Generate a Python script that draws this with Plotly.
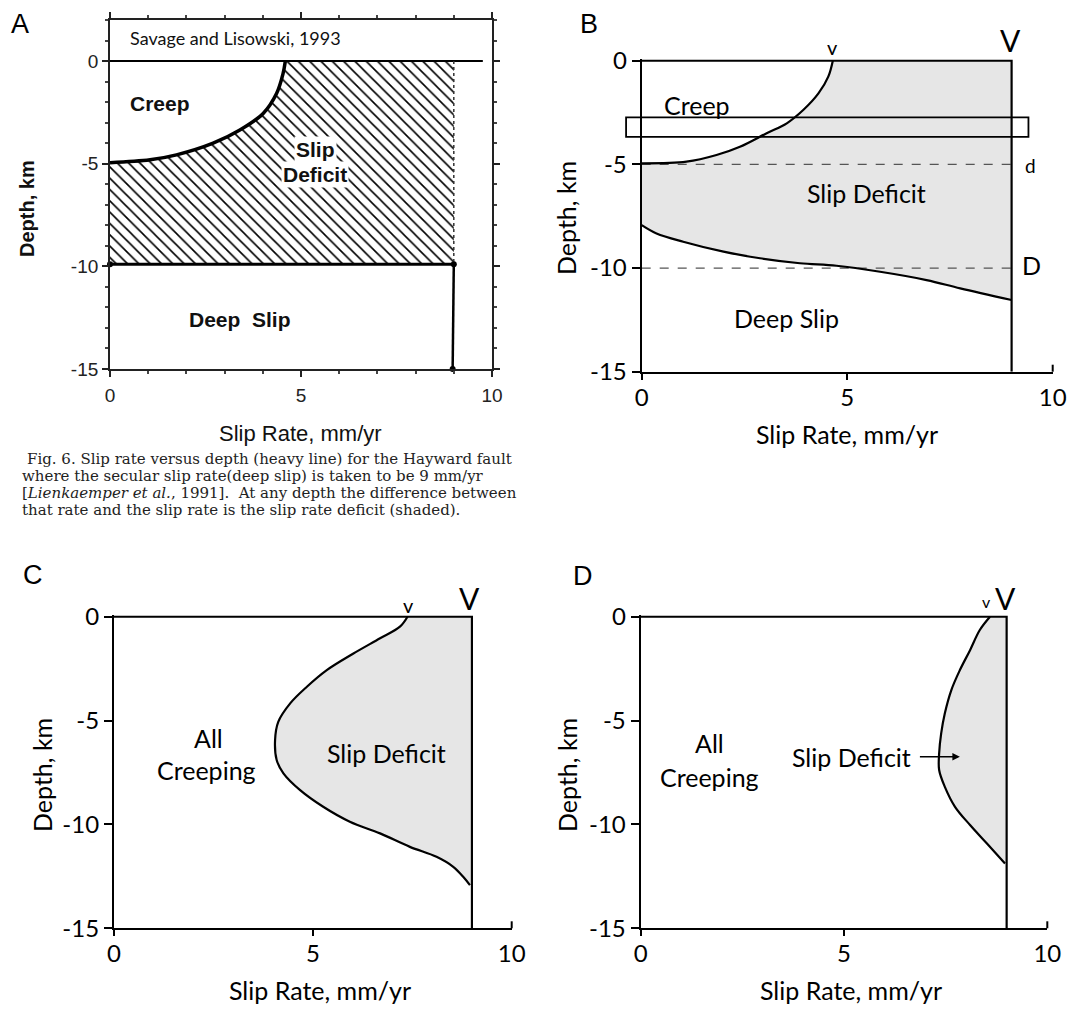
import plotly.graph_objects as go

W, H = 1068, 1011

# ---------------- Data ----------------
# Panel A (Savage and Lisowski, 1993)
a_creep_x = [0, 1.05, 1.74, 2.70, 3.40, 4.01, 4.36, 4.53, 4.59]
a_creep_y = [-4.95, -4.81, -4.57, -4.0, -3.36, -2.55, -1.58, -0.61, 0]
a_secular_rate = 9.0
a_lock_depth = -9.9
a_surface_x = [0, 9.76]
a_deep_x = [9.0, 8.97]
a_deep_y = [-9.9, -15]

# Panel B
b_creep_x = [0, 1.09, 1.82, 2.39, 3.04, 3.53, 3.93, 4.30, 4.54, 4.65]
b_creep_y = [-4.95, -4.87, -4.55, -4.15, -3.5, -3.02, -2.38, -1.58, -0.77, 0]
b_deep_x = [0, 0.36, 1.01, 1.99, 2.88, 3.85, 4.74, 5.80, 6.93, 7.75, 9.0]
b_deep_y = [-7.93, -8.33, -8.73, -9.21, -9.53, -9.77, -9.89, -10.18, -10.58, -10.98, -11.54]
b_d_depth = -5
b_D_depth = -10
b_box_x = [-0.38, 9.41]
b_box_y = [-3.67, -2.73]

# Panel C
c_x = [7.38, 7.19, 6.69, 6.02, 5.35, 4.85, 4.43, 4.13, 4.05, 4.09, 4.26, 4.68, 5.26,
       5.93, 6.69, 7.44, 8.11, 8.53, 8.78, 8.95]
c_y = [0, -0.48, -1.04, -1.77, -2.57, -3.37, -4.17, -5.06, -5.94, -6.90, -7.54, -8.35,
       -9.15, -9.87, -10.43, -11.08, -11.56, -12.04, -12.52, -12.92]

# Panel D
d_x = [8.59, 8.34, 8.10, 7.85, 7.64, 7.48, 7.39, 7.34, 7.34, 7.48, 7.73, 8.10, 8.51, 8.96]
d_y = [0, -0.64, -1.61, -2.57, -3.53, -4.65, -5.62, -6.58, -7.38, -8.19, -9.15, -10.03,
       -10.91, -11.88]

V = 9.0          # secular (deep) slip rate
DEPTH_MIN = -15

x_ticks = [0, 5, 10]
y_ticks = [0, -5, -10, -15]
y_ticktext = ["0", "-5", "-10", "-15"]

caption_lines = [
    "Fig. 6. Slip rate versus depth (heavy line) for the Hayward fault",
    "where the secular slip rate(deep slip) is taken to be 9 mm/yr",
    "[<i>Lienkaemper et al.</i>, 1991].  At any depth the difference between",
    "that rate and the slip rate is the slip rate deficit (shaded).",
]

# ---------------- Layout helpers ----------------
Y_TOP = 0.06
X_RANGE = [0, 10]
Y_RANGE = [DEPTH_MIN, Y_TOP]

# pixel boxes of the plot areas: (left, right, top, bottom)
PANELS = {
    "2": (641.7, 1052.7, 60.7 - 20.73 * Y_TOP, 371.7),
    "3": (114.0, 511.7, 616.7 - 20.77 * Y_TOP, 928.3),
    "4": (640.7, 1047.3, 616.7 - 20.77 * Y_TOP, 928.3),
}


def dom_x(l, r):
    return [l / W, r / W]


def dom_y(top, bottom):
    return [1 - bottom / H, 1 - top / H]


def to_paper(panel, x, y):
    l, r, t, b = PANELS[panel]
    fx = (x - X_RANGE[0]) / (X_RANGE[1] - X_RANGE[0])
    fy = (y - Y_RANGE[0]) / (Y_RANGE[1] - Y_RANGE[0])
    px = l + fx * (r - l)
    py = b - fy * (b - t)
    return px / W, 1 - py / H


GRAY = "#e6e6e6"
FONT = "Lato"
SCAN = "Liberation Sans"

fig = go.Figure()

# ---------------- Panel A ----------------
poly_x = a_creep_x + [a_secular_rate, a_secular_rate, 0, 0]
poly_y = a_creep_y + [0, a_lock_depth, a_lock_depth, a_creep_y[0]]
fig.add_trace(go.Scatter(x=poly_x, y=poly_y, mode="lines", fill="toself",
                         fillcolor="white", line=dict(width=0),
                         fillpattern=dict(shape="\\", fgcolor="black", bgcolor="white",
                                          size=8, solidity=0.2),
                         xaxis="x", yaxis="y", hoverinfo="skip"))
fig.add_trace(go.Scatter(x=a_surface_x, y=[0, 0], mode="lines",
                         line=dict(color="black", width=2), xaxis="x", yaxis="y"))
fig.add_trace(go.Scatter(x=[a_secular_rate, a_secular_rate], y=[0, a_lock_depth], mode="lines",
                         line=dict(color="#333", width=1.5, dash="dot"), xaxis="x", yaxis="y"))
fig.add_trace(go.Scatter(x=a_creep_x, y=a_creep_y, mode="lines",
                         line=dict(color="black", width=3.5, shape="spline"), xaxis="x", yaxis="y"))
fig.add_trace(go.Scatter(x=[0, a_secular_rate], y=[a_lock_depth, a_lock_depth], mode="lines",
                         line=dict(color="black", width=3), xaxis="x", yaxis="y"))
fig.add_trace(go.Scatter(x=a_deep_x, y=a_deep_y, mode="lines",
                         line=dict(color="black", width=2.5), xaxis="x", yaxis="y"))
fig.add_trace(go.Scatter(x=[0, a_secular_rate, a_deep_x[1]], y=[a_lock_depth, a_lock_depth, a_deep_y[1]],
                         mode="markers", marker=dict(color="black", size=6), cliponaxis=False,
                         xaxis="x", yaxis="y"))

# ---------------- Panel B ----------------
b_fill_x = b_creep_x + [V] + b_deep_x[::-1]
b_fill_y = b_creep_y + [0] + b_deep_y[::-1]
fig.add_trace(go.Scatter(x=b_fill_x, y=b_fill_y, mode="lines", fill="toself", fillcolor=GRAY,
                         line=dict(width=0), xaxis="x2", yaxis="y2", hoverinfo="skip"))
for dep in (b_d_depth, b_D_depth):
    fig.add_trace(go.Scatter(x=[0, V], y=[dep, dep], mode="lines",
                             line=dict(color="#555", width=1.3, dash="dash"), xaxis="x2", yaxis="y2"))
fig.add_trace(go.Scatter(x=b_creep_x, y=b_creep_y, mode="lines",
                         line=dict(color="black", width=2.2, shape="spline"), xaxis="x2", yaxis="y2"))
fig.add_trace(go.Scatter(x=b_deep_x, y=b_deep_y, mode="lines",
                         line=dict(color="black", width=2.2, shape="spline"), xaxis="x2", yaxis="y2"))

# ---------------- Panel C ----------------
fig.add_trace(go.Scatter(x=c_x + [V, V], y=c_y + [c_y[-1], 0], mode="lines", fill="toself",
                         fillcolor=GRAY, line=dict(width=0), xaxis="x3", yaxis="y3", hoverinfo="skip"))
fig.add_trace(go.Scatter(x=c_x, y=c_y, mode="lines",
                         line=dict(color="black", width=2.2, shape="spline"), xaxis="x3", yaxis="y3"))

# ---------------- Panel D ----------------
fig.add_trace(go.Scatter(x=d_x + [V, V], y=d_y + [d_y[-1], 0], mode="lines", fill="toself",
                         fillcolor=GRAY, line=dict(width=0), xaxis="x4", yaxis="y4", hoverinfo="skip"))
fig.add_trace(go.Scatter(x=d_x, y=d_y, mode="lines",
                         line=dict(color="black", width=2.2, shape="spline"), xaxis="x4", yaxis="y4"))

# box lines (top at 0 and right at V) for B, C, D
for xa, ya in (("x2", "y2"), ("x3", "y3"), ("x4", "y4")):
    fig.add_trace(go.Scatter(x=[0, V, V], y=[0, 0, DEPTH_MIN], mode="lines",
                             line=dict(color="black", width=2.2), xaxis=xa, yaxis=ya))

# ---------------- Axes ----------------
def xaxis_bcd(dom, anchor):
    return dict(domain=dom, anchor=anchor, range=X_RANGE, tickvals=x_ticks,
                ticks="", ticklabelstandoff=3, automargin=False,
                minor=dict(tickvals=x_ticks[:-1], ticks="outside", ticklen=6, tickwidth=2,
                           tickcolor="black"),
                showline=True, linewidth=2.2, linecolor="black", showgrid=False, zeroline=False,
                tickfont=dict(family=FONT, size=24, color="black"), fixedrange=True)


def yaxis_bcd(dom, anchor):
    return dict(domain=dom, anchor=anchor, range=Y_RANGE, tickvals=y_ticks,
                ticktext=y_ticktext, ticks="outside", ticklen=8, tickwidth=2, tickcolor="black",
                showline=True, linewidth=2.2, linecolor="black", showgrid=False, zeroline=False,
                automargin=False,
                tickfont=dict(family=FONT, size=24, color="black"), fixedrange=True)


layout_axes = {}
for k, (l, r, t, b) in PANELS.items():
    layout_axes["xaxis" + k] = xaxis_bcd(dom_x(l, r), "y" + k)
    layout_axes["yaxis" + k] = yaxis_bcd(dom_y(t, b), "x" + k)

fig.update_layout(
    template="none",
    width=W, height=H, margin=dict(l=0, r=0, t=0, b=0, pad=0, autoexpand=False),
    paper_bgcolor="white", plot_bgcolor="white", showlegend=False,
    xaxis=dict(domain=dom_x(110, 492), anchor="y", range=[0, 10], tickvals=x_ticks,
               ticks="outside", ticklen=6, tickwidth=1.5, tickcolor="#222", mirror="allticks",
               showline=True, linewidth=1.8, linecolor="#222", showgrid=False, zeroline=False,
               minor=dict(dtick=1, ticks="outside", ticklen=3, tickcolor="#444"),
               ticklabelstandoff=2, automargin=False,
               tickfont=dict(family=SCAN, size=19, color="#222"), fixedrange=True),
    yaxis=dict(domain=dom_y(20, 369), anchor="x", range=[DEPTH_MIN, 2], tickvals=y_ticks,
               ticktext=y_ticktext, ticks="outside", ticklen=6, tickwidth=1.5, tickcolor="#222",
               mirror="allticks", showline=True, linewidth=1.8, linecolor="#222",
               showgrid=False, zeroline=False, automargin=False,
               minor=dict(dtick=1, ticks="outside", ticklen=3, tickcolor="#444"),
               tickfont=dict(family=SCAN, size=19, color="#222"), fixedrange=True),
    **layout_axes,
)

# Rectangle in panel B (not clipped: use domain refs)
bx0 = (b_box_x[0] - X_RANGE[0]) / (X_RANGE[1] - X_RANGE[0])
bx1 = (b_box_x[1] - X_RANGE[0]) / (X_RANGE[1] - X_RANGE[0])
by0 = (b_box_y[0] - Y_RANGE[0]) / (Y_RANGE[1] - Y_RANGE[0])
by1 = (b_box_y[1] - Y_RANGE[0]) / (Y_RANGE[1] - Y_RANGE[0])
fig.add_shape(type="rect", xref="x2 domain", yref="y2 domain", x0=bx0, x1=bx1, y0=by0, y1=by1,
              line=dict(color="black", width=1.8), fillcolor="rgba(0,0,0,0)")

# upward tick at x = 10 on the B, C, D axes
for k, (l, r, t, b) in PANELS.items():
    fig.add_shape(type="line", xref="x%s domain" % k, yref="y%s domain" % k,
                  x0=1, x1=1, y0=0, y1=7 / (b - t), line=dict(color="black", width=2))

ann = []


def txt(text, x, y, xref, yref, size=24, family=FONT, **kw):
    d = dict(text=text, x=x, y=y, xref=xref, yref=yref, showarrow=False,
             xanchor=kw.pop("xanchor", "center"), yanchor=kw.pop("yanchor", "middle"),
             font=dict(family=family, size=size, color=kw.pop("color", "black")))
    d.update(kw)
    ann.append(d)


def paper(text, px, py, size=24, family=FONT, **kw):
    txt(text, px / W, 1 - py / H, "paper", "paper", size=size, family=family, **kw)


def above(panel, text, x, y, size):
    fx, fy = to_paper(panel, x, y)
    txt(text, fx, fy, "paper", "paper", size=size)


# Panel letters
paper("A", 20, 24, size=27, family=SCAN)
paper("B", 589, 24, size=27, family=SCAN)
paper("C", 33, 575, size=27, family=SCAN)
paper("D", 583, 576, size=27, family=SCAN)

# Panel A texts
txt("Savage and Lisowski, 1993", 0.47, 1.12, "x", "y", size=18, xanchor="left", color="#111")
txt("<b>Creep</b>", 1.31, -2.05, "x", "y", size=21, family=SCAN, color="#111")
txt("<b>Slip</b>", 5.37, -4.33, "x", "y", size=21, family=SCAN, color="#111",
    bgcolor="white")
txt("<b>Deficit</b>", 5.37, -5.55, "x", "y", size=21, family=SCAN, color="#111",
    bgcolor="white")
txt("<b>Deep  Slip</b>", 3.40, -12.6, "x", "y", size=21, family=SCAN, color="#111")
paper("<b>Depth, km</b>", 27, 209, size=20, family=SCAN, textangle=-90, color="#111")
paper("Slip Rate, mm/yr", 300, 433, size=22, family=SCAN, color="#111")
cap_y = [459, 476, 493, 510]
cap_x = [25, 20, 20, 20]
for line, cx, cy in zip(caption_lines, cap_x, cap_y):
    paper(line, cx, cy, size=15, family="DejaVu Serif", xanchor="left", color="#222")

# Panel B texts
above("2", "v", 4.65, 0.68, 20)
above("2", "V", 8.98, 1.0, 30)
txt("d", 9.45, -5.07, "x2", "y2", size=19)
txt("D", 9.49, -9.85, "x2", "y2", size=25)
txt("Creep", 1.34, -2.14, "x2", "y2", size=25)
txt("Slip Deficit", 5.47, -6.4, "x2", "y2", size=25)
txt("Deep Slip", 3.53, -12.43, "x2", "y2", size=25)
paper("Depth, km", 566, 218, size=25, textangle=-90)
paper("Slip Rate, mm/yr", 847, 434, size=25)

# Panel C texts
above("3", "v", 7.40, 0.56, 20)
above("3", "V", 8.95, 0.88, 30)
txt("All", 2.37, -5.86, "x3", "y3", size=25)
txt("Creeping", 2.33, -7.38, "x3", "y3", size=25)
txt("Slip Deficit", 6.86, -6.58, "x3", "y3", size=25)
paper("Depth, km", 42, 775, size=25, textangle=-90)
paper("Slip Rate, mm/yr", 320, 990, size=25)

# Panel D texts
above("4", "v", 8.51, 0.72, 16)
above("4", "V", 8.96, 0.88, 30)
txt("All", 1.70, -6.1, "x4", "y4", size=25)
txt("Creeping", 1.70, -7.7, "x4", "y4", size=25)
txt("Slip Deficit", 5.19, -6.74, "x4", "y4", size=25)
ann.append(dict(x=7.85, y=-6.74, xref="x4", yref="y4", ax=6.83, ay=-6.74, axref="x4", ayref="y4",
                text="", showarrow=True, arrowhead=2, arrowsize=1, arrowwidth=1.5,
                arrowcolor="black"))
paper("Depth, km", 567, 775, size=25, textangle=-90)
paper("Slip Rate, mm/yr", 851, 990, size=25)

fig.update_layout(annotations=ann)

fig.write_html("out.html")
